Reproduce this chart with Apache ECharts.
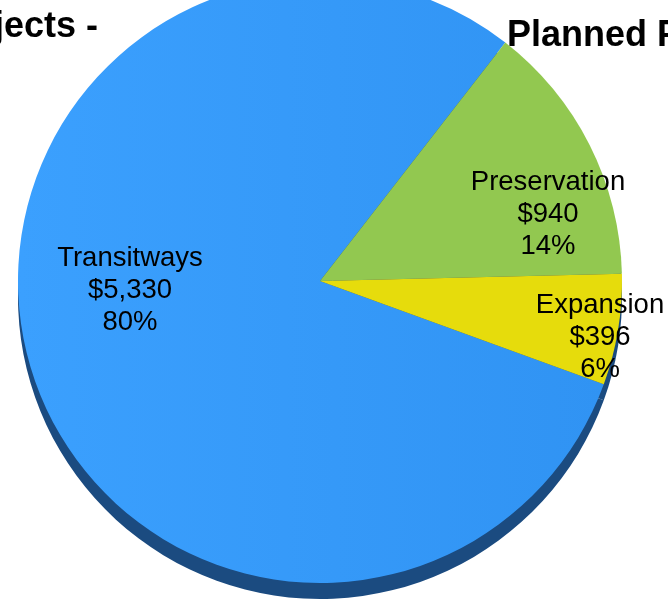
<!DOCTYPE html>
<html>
<head>
<meta charset="utf-8">
<script src="https://cdn.jsdelivr.net/npm/echarts@6/dist/echarts.min.js"></script>
<style>
html,body{margin:0;padding:0;background:#fff;}
#chart{width:668px;height:600px;}
</style>
</head>
<body>
<div id="chart"></div>
<script>
// ---- data ----
var categories = ['Transitways', 'Preservation', 'Expansion'];
var values = [5330, 940, 396];
var titleLeft = 'Projects -';
var titleRight = 'Planned Projects';

// ---- styles / layout (kept separate from data) ----
var sliceColors = [
  {type:'linear',x:0,y:0,x2:1,y2:0,colorStops:[{offset:0,color:'#3ba0fe'},{offset:1,color:'#3093f3'}]},
  '#92c850',
  '#e6dc0c'
];
var labelPos = [[130, 290], [548, 214], [600, 337]];
var pieCenter = [320, 281];
var pieRadius = 302;
var depth = 16;

var data = categories.map(function(c, i){
  return {name: c, value: values[i], itemStyle: {color: sliceColors[i]}};
});
var shadowData = categories.map(function(c, i){
  return {name: c, value: values[i]};
});

var chart = echarts.init(document.getElementById('chart'), null, {renderer:'canvas'});
chart.setOption({
  animation: false,
  backgroundColor: '#ffffff',
  graphic: [
    {type:'text', z:0, x:98, y:27, style:{text:titleLeft, align:'right', verticalAlign:'middle', font:'bold 36px "Liberation Sans", Arial, sans-serif', fill:'#000'}},
    {type:'text', z:0, x:507, y:36, style:{text:titleRight, align:'left', verticalAlign:'middle', font:'bold 36px "Liberation Sans", Arial, sans-serif', fill:'#000'}}
  ],
  series: [
    {
      type:'pie', z:1, silent:true,
      center:[pieCenter[0], pieCenter[1] + depth],
      radius: pieRadius,
      startAngle: 340, clockwise: true,
      label:{show:false}, labelLine:{show:false},
      itemStyle:{color:'#1b4b80', borderWidth:0},
      data: shadowData
    },
    {
      type:'pie', z:2, silent:true,
      center: pieCenter,
      radius: pieRadius,
      startAngle: 340, clockwise: true,
      percentPrecision: 0,
      itemStyle:{borderWidth:0},
      label:{
        show:true, position:'inside',
        formatter:function(p){ return p.name + '\n$' + p.value.toLocaleString('en-US') + '\n' + p.percent + '%'; },
        fontFamily:'"Liberation Sans", Arial, sans-serif',
        fontSize:27.5, lineHeight:32, color:'#000', align:'center'
      },
      labelLine:{show:false},
      labelLayout:function(params){
        var p = labelPos[params.dataIndex];
        return {x:p[0], y:p[1]};
      },
      data: data
    }
  ]
});
</script>
</body>
</html>
